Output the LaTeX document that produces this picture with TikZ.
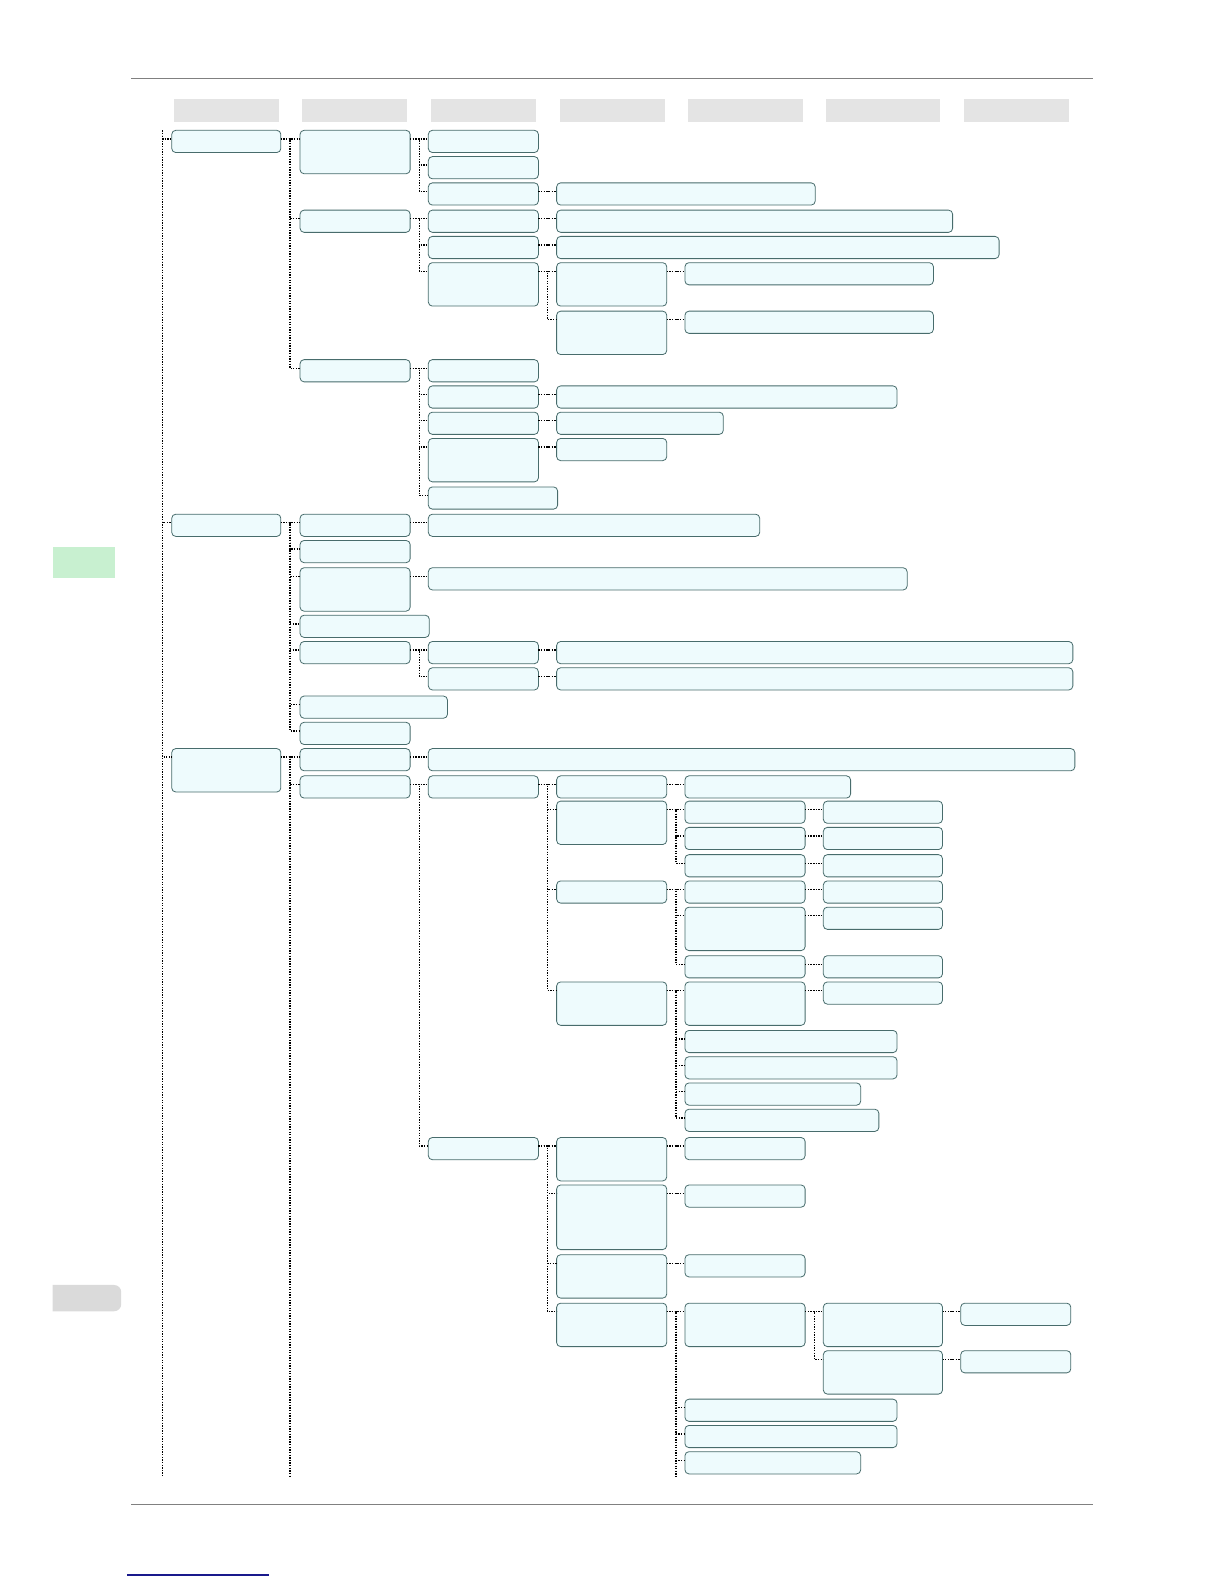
\documentclass[tikz,border=0pt]{standalone}
\usepackage{xcolor}
\definecolor{boxfill}{RGB}{238,251,253}
\definecolor{boxline}{RGB}{72,108,108}
\definecolor{headgray}{RGB}{228,228,228}
\definecolor{tabgreen}{RGB}{200,240,208}
\definecolor{tabgray}{RGB}{218,218,218}
\definecolor{linkblue}{RGB}{25,25,140}
\usepackage{tikz}
\usetikzlibrary{calc}

\tikzset{
  bx/.style={draw=boxline, fill=boxfill, rounded corners=4pt, line width=0.8pt,
    inner sep=0pt, outer sep=0pt, anchor=north west},
  lk/.style={line width=1.4pt, dash pattern=on 1.3pt off 1.3pt},
}
% box: name, left, top, width, height
\newcommand{\bx}[5]{\node[bx, minimum width=#4pt, minimum height=#5pt] (#1) at (#2,#3) {};}
% dotted link from parent to child
\newcommand{\lk}[2]{\draw[lk] ([yshift=-8.5pt]#1.north east) -- ++(9,0) |- ([yshift=-8.5pt]#2.north west);}

\begin{document}
\begin{tikzpicture}[x=1pt, y=-1pt]
  \useasboundingbox (0,0) rectangle (1212,1568);

  % Page rules, tabs & link
  \draw[gray, line width=0.9pt] (130,78) -- (1082,78);
  \draw[gray, line width=0.9pt] (130,1489) -- (1082,1489);
  \fill[tabgreen] (52,541) rectangle (114,572);
  \fill[tabgray] (52,1298) -- (52,1272) [rounded corners=7pt] -- (120,1272) -- (120,1298) [sharp corners] -- cycle;
  \draw[linkblue, line width=1.3pt] (126,1559) -- (266,1559);

  % Column heads
  \foreach \xa/\xb in {172/276, 299/403, 427/531, 554/658, 681/795, 818/930, 954/1058} {
    \fill[headgray] (\xa,98) rectangle (\xb,121);
  }

  % Column 1
  \bx{a1}{170}{129}{108}{22}
  \bx{a2}{170}{509}{108}{22}
  \bx{a3}{170}{741}{108}{43}

  % Column 2
  \bx{b1}{297}{129}{109}{43}
  \bx{b2}{297}{208}{109}{22}
  \bx{b3}{297}{356}{109}{22}
  \bx{b4}{297}{509}{109}{22}
  \bx{b5}{297}{535}{109}{22}
  \bx{b6}{297}{562}{109}{43}
  \bx{b7}{297}{609}{128}{22}
  \bx{b8}{297}{635}{109}{22}
  \bx{b9}{297}{689}{146}{22}
  \bx{b10}{297}{715}{109}{22}
  \bx{b11}{297}{741}{109}{22}
  \bx{b12}{297}{768}{109}{22}

  % Column 3
  \bx{c1}{424}{129}{109}{22}
  \bx{c2}{424}{155}{109}{22}
  \bx{c3}{424}{181}{109}{22}
  \bx{c4}{424}{208}{109}{22}
  \bx{c5}{424}{234}{109}{22}
  \bx{c6}{424}{260}{109}{43}
  \bx{c7}{424}{356}{109}{22}
  \bx{c8}{424}{382}{109}{22}
  \bx{c9}{424}{408}{109}{22}
  \bx{c10}{424}{434}{109}{43}
  \bx{c11}{424}{482}{128}{22}
  \bx{c12}{424}{509}{328}{22}
  \bx{c13}{424}{562}{474}{22}
  \bx{c14}{424}{635}{109}{22}
  \bx{c15}{424}{661}{109}{22}
  \bx{c16}{424}{741}{640}{22}
  \bx{c17}{424}{768}{109}{22}
  \bx{c18}{424}{1126}{109}{22}

  % Column 4
  \bx{d1}{551}{181}{256}{22}
  \bx{d2}{551}{208}{392}{22}
  \bx{d3}{551}{234}{438}{22}
  \bx{d4}{551}{260}{109}{43}
  \bx{d5}{551}{308}{109}{43}
  \bx{d6}{551}{382}{337}{22}
  \bx{d7}{551}{408}{165}{22}
  \bx{d8}{551}{434}{109}{22}
  \bx{d9}{551}{635}{511}{22}
  \bx{d10}{551}{661}{511}{22}
  \bx{d11}{551}{768}{109}{22}
  \bx{d12}{551}{793}{109}{43}
  \bx{d13}{551}{872}{109}{22}
  \bx{d14}{551}{972}{109}{43}
  \bx{d15}{551}{1126}{109}{43}
  \bx{d16}{551}{1173}{109}{64}
  \bx{d17}{551}{1242}{109}{43}
  \bx{d18}{551}{1290}{109}{43}

  % Column 5
  \bx{e1}{678}{260}{246}{22}
  \bx{e2}{678}{308}{246}{22}
  \bx{e3}{678}{768}{164}{22}
  \bx{e4}{678}{793}{119}{22}
  \bx{e5}{678}{819}{119}{22}
  \bx{e6}{678}{846}{119}{22}
  \bx{e7}{678}{872}{119}{22}
  \bx{e8}{678}{898}{119}{43}
  \bx{e9}{678}{946}{119}{22}
  \bx{e10}{678}{972}{119}{43}
  \bx{e11}{678}{1020}{210}{22}
  \bx{e12}{678}{1046}{210}{22}
  \bx{e13}{678}{1072}{174}{22}
  \bx{e14}{678}{1098}{192}{22}
  \bx{e15}{678}{1126}{119}{22}
  \bx{e16}{678}{1173}{119}{22}
  \bx{e17}{678}{1242}{119}{22}
  \bx{e18}{678}{1290}{119}{43}
  \bx{e19}{678}{1385}{210}{22}
  \bx{e20}{678}{1411}{210}{22}
  \bx{e21}{678}{1437}{174}{22}

  % Column 6
  \bx{f1}{815}{793}{118}{22}
  \bx{f2}{815}{819}{118}{22}
  \bx{f3}{815}{846}{118}{22}
  \bx{f4}{815}{872}{118}{22}
  \bx{f5}{815}{898}{118}{22}
  \bx{f6}{815}{946}{118}{22}
  \bx{f7}{815}{972}{118}{22}
  \bx{f8}{815}{1290}{118}{43}
  \bx{f9}{815}{1337}{118}{43}

  % Column 7
  \bx{g1}{951}{1290}{109}{22}
  \bx{g2}{951}{1337}{109}{22}

  % Root line (runs on past the page)
  \coordinate (rtop) at (161,129);
  \coordinate (rbot) at (161,1462);
  \draw[lk] (rtop) -- (rbot);
  \foreach \c in {a1, a2, a3} {
    \draw[lk] (rtop) |- ([yshift=-8.5pt]\c.north west);
  }

  % Lines running on past the page
  \coordinate (b2bot) at (287,1462);
  \coordinate (e5bot) at (669,1462);
  \draw[lk] ([yshift=-8.5pt]a3.north east) -- ++(9,0) -- (b2bot);
  \draw[lk] ([yshift=-8.5pt]d18.north east) -- ++(9,0) -- (e5bot);

  % Links
  \foreach \p/\c in {a1/b1, a1/b2, a1/b3, a2/b4, a2/b5, a2/b6, a2/b7, a2/b8, a2/b9, a2/b10,
      a3/b11, a3/b12,
      b1/c1, b1/c2, b1/c3, b2/c4, b2/c5, b2/c6, b3/c7, b3/c8, b3/c9, b3/c10, b3/c11,
      b4/c12, b6/c13, b8/c14, b8/c15, b11/c16, b12/c17, b12/c18,
      c3/d1, c4/d2, c5/d3, c6/d4, c6/d5, c8/d6, c9/d7, c10/d8, c14/d9, c15/d10,
      c17/d11, c17/d12, c17/d13, c17/d14, c18/d15, c18/d16, c18/d17, c18/d18,
      d4/e1, d5/e2, d11/e3, d12/e4, d12/e5, d12/e6, d13/e7, d13/e8, d13/e9,
      d14/e10, d14/e11, d14/e12, d14/e13, d14/e14, d15/e15, d16/e16, d17/e17,
      d18/e18, d18/e19, d18/e20, d18/e21,
      e4/f1, e5/f2, e6/f3, e7/f4, e8/f5, e9/f6, e10/f7, e18/f8, e18/f9,
      f8/g1, f9/g2} {
    \lk{\p}{\c}
  }

\end{tikzpicture}
\end{document}
